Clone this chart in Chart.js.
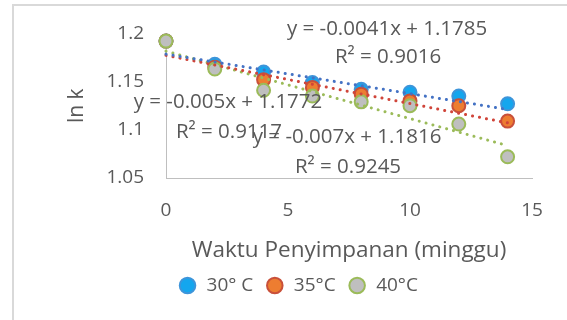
<!DOCTYPE html>
<html>
<head>
<style>
  html, body { margin: 0; padding: 0; background: #fff; }
  .canvas-hold { position: relative; width: 567px; height: 320px; }
</style>
</head>
<body>
<div class="canvas-hold"><canvas id="c"></canvas></div>
<script src="https://cdn.jsdelivr.net/npm/chart.js@4.4.1/dist/chart.umd.min.js"></script>
<script>
// waktu penyimpanan (minggu) and ln k per temperature
const weeks = [0, 2, 4, 6, 8, 10, 12, 14];
const lnk30 = [1.192, 1.168, 1.160, 1.149, 1.142, 1.139, 1.135, 1.127];
const lnk35 = [1.192, 1.165, 1.152, 1.144, 1.137, 1.130, 1.125, 1.109];
const lnk40 = [1.192, 1.163, 1.141, 1.135, 1.129, 1.125, 1.106, 1.072];

const seriesNames = ['30° C', '35°C', '40°C'];
// linear trendlines as printed on the chart
const slopes = [-0.0041, -0.005, -0.007];
const intercepts = [1.1785, 1.1772, 1.1816];
const rSquared = ['0.9016', '0.9117', '0.9245'];
const eqText = ['y = -0.0041x + 1.1785', 'y = -0.005x + 1.1772', 'y = -0.007x + 1.1816'];

const yTicks = ['1.05', '1.1', '1.15', '1.2'];
const xTicks = ['0', '5', '10', '15'];

const textColor = '#595959';
const fontName = '"Open Sans", sans-serif';

function pts(ys) {
    return weeks.map((x, i) => ({ x: x, y: ys[i] }));
}
function trend(i) {
    let x0 = weeks[0], x1 = weeks[weeks.length - 1];
    return [{ x: x0, y: slopes[i] * x0 + intercepts[i] }, { x: x1, y: slopes[i] * x1 + intercepts[i] }];
}

const markerFill = ['#14A6EE', '#ED7D31', '#BFBFBF'];
const markerEdge = ['#3D95DA', '#C9503A', '#9BBB59'];
const trendColor = ['#4472C4', '#D0453A', '#9BBB59'];

const datasets = [];
[lnk30, lnk35, lnk40].forEach((ys, i) => {
    datasets.push({
        label: seriesNames[i],
        data: pts(ys),
        backgroundColor: markerFill[i],
        borderColor: markerEdge[i],
        pointRadius: 6.5,
        pointBorderWidth: 2,
        showLine: false,
        clip: false,
        order: 10 - i
    });
});
[0, 1, 2].forEach(i => {
    datasets.push({
        label: 'trend' + i,
        data: trend(i),
        borderColor: trendColor[i],
        borderWidth: 3,
        borderDash: [0.1, 7],
        borderCapStyle: 'round',
        pointRadius: 0,
        showLine: true,
        fill: false,
        clip: false,
        order: 1
    });
});

// where the trendline equations sit, in data units of the axes
const eqAnchor = [[9.06, 1.2041, 9.1, 1.1752], [2.54, 1.1286, 2.58, 1.0976], [7.42, 1.0924, 7.46, 1.0614]];

const frame = {
    id: 'frame',
    beforeDraw(chart) {
        const ctx = chart.ctx;
        ctx.save();
        ctx.strokeStyle = '#D9D9D9';
        ctx.lineWidth = 2;
        ctx.beginPath();
        ctx.moveTo(13, 320);
        ctx.lineTo(13, 5);
        ctx.lineTo(567, 5);
        ctx.stroke();
        ctx.restore();
    }
};

const equations = {
    id: 'equations',
    afterDatasetsDraw(chart) {
        const ctx = chart.ctx, xs = chart.scales.x, ys = chart.scales.y;
        ctx.save();
        ctx.fillStyle = textColor;
        ctx.font = '20.5px ' + fontName;
        ctx.textAlign = 'center';
        ctx.textBaseline = 'middle';
        eqAnchor.forEach((a, i) => {
            ctx.fillText(eqText[i], xs.getPixelForValue(a[0]), ys.getPixelForValue(a[1]));
            ctx.fillText('R² = ' + rSquared[i], xs.getPixelForValue(a[2]), ys.getPixelForValue(a[3]));
        });
        ctx.restore();
    }
};

let chart = new Chart(document.getElementById('c').getContext('2d'), {
    type: 'scatter',
    data: { datasets: datasets },
    plugins: [frame, equations],
    options: {
        responsive: true,
        maintainAspectRatio: false,
        animation: false,
        layout: { padding: { left: 64, right: 35, top: 27, bottom: 15 } },
        plugins: {
            tooltip: { enabled: false },
            legend: {
                position: 'bottom',
                labels: {
                    filter: item => item.datasetIndex < 3,
                    sort: (a, b) => a.datasetIndex - b.datasetIndex,
                    usePointStyle: true,
                    pointStyle: 'circle',
                    boxHeight: 11,
                    padding: 12,
                    color: textColor,
                    font: { family: fontName, size: 19 }
                }
            }
        },
        scales: {
            x: {
                type: 'linear',
                min: 0, max: 15,
                afterFit: s => { s.height = 86; },
                afterBuildTicks: s => { s.ticks = xTicks.map(v => ({ value: Number(v) })); },
                grid: { display: false, drawTicks: false },
                border: { display: true, color: '#BFBFBF', width: 1 },
                ticks: {
                    padding: 21,
                    color: textColor,
                    font: { family: fontName, size: 19 },
                    callback: (v, i) => xTicks[i]
                },
                title: {
                    display: true,
                    text: 'Waktu Penyimpanan (minggu)',
                    color: textColor,
                    font: { family: fontName, size: 22.5 },
                    padding: 0
                }
            },
            y: {
                min: 1.05, max: 1.2,
                afterFit: s => { s.width = 102; },
                afterBuildTicks: s => { s.ticks = yTicks.map(v => ({ value: Number(v) })); },
                grid: { display: false, drawTicks: false },
                border: { display: true, color: '#BFBFBF', width: 1 },
                ticks: {
                    padding: 22,
                    color: textColor,
                    font: { family: fontName, size: 19 },
                    callback: (v, i) => yTicks[i]
                },
                title: {
                    display: true,
                    text: 'ln k',
                    color: textColor,
                    font: { family: fontName, size: 21 },
                    padding: 0
                }
            }
        }
    }
});
</script>
</body>
</html>
